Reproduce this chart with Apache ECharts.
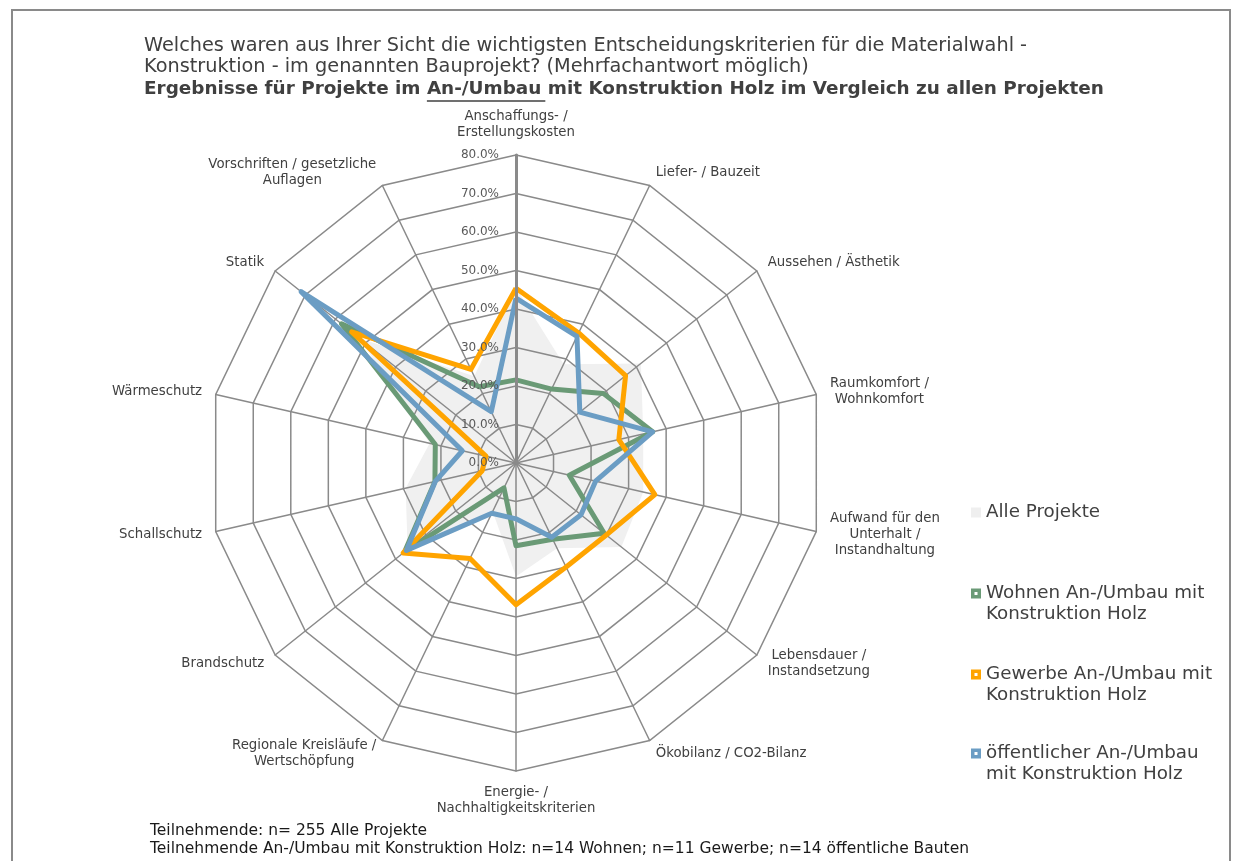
<!DOCTYPE html>
<html>
<head>
<meta charset="utf-8">
<title>Entscheidungskriterien Materialwahl</title>
<script src="https://cdn.jsdelivr.net/npm/echarts@6/dist/echarts.min.js"></script>
<style>
html, body { margin: 0; padding: 0; background: #fff; }
#main { width: 1233px; height: 861px; }
</style>
</head>
<body>
<div id="main"></div>
<script>
// Kriterien im Uhrzeigersinn, oben beginnend
var kriterien = [
  'Anschaffungs- /\nErstellungskosten',
  'Liefer- / Bauzeit',
  'Aussehen / Ästhetik',
  'Raumkomfort /\nWohnkomfort',
  'Aufwand für den\nUnterhalt /\nInstandhaltung',
  'Lebensdauer /\nInstandsetzung',
  'Ökobilanz / CO2-Bilanz',
  'Energie- /\nNachhaltigkeitskriterien',
  'Regionale Kreisläufe /\nWertschöpfung',
  'Brandschutz',
  'Schallschutz',
  'Wärmeschutz',
  'Statik',
  'Vorschriften / gesetzliche\nAuflagen'
];
// Anteile in %
var alleProjekte = [45.5, 28.5, 41.5, 33.9, 33.9, 35.0, 24.6, 29.5, 14.0, 36.0, 29.4, 23.0, 52.0, 25.0];
var wohnen       = [21.6, 21.3, 29.0, 36.4, 14.2, 29.3, 22.0, 21.5, 7.2, 37.0, 21.6, 21.5, 58.0, 22.0];
var gewerbe      = [45.4, 37.5, 36.4, 27.4, 37.0, 30.0, 30.0, 36.8, 27.5, 37.5, 9.0, 8.0, 54.6, 27.0];
var oeffentlich  = [42.8, 36.5, 21.2, 36.4, 21.2, 21.6, 21.4, 14.5, 14.5, 36.4, 21.5, 14.3, 71.4, 14.8];

var skalaMin = 0;
var skalaMax = 80;
var skalaSchritte = 8;

var reihenNamen = [
  'Alle Projekte',
  'Wohnen An-/Umbau mit\nKonstruktion Holz',
  'Gewerbe An-/Umbau mit\nKonstruktion Holz',
  'öffentlicher An-/Umbau\nmit Konstruktion Holz'
];
var reihenFarben = ['#efefef', '#6a9a76', '#ffa400', '#6b9dc4'];

var FONT = '"DejaVu Sans", "Noto Sans", sans-serif';
var GRAU = '#8a8a8a';

// echarts zeichnet gegen den Uhrzeigersinn -> Reihenfolge umdrehen
var reihenfolge = [0];
for (var i = kriterien.length - 1; i > 0; i--) reihenfolge.push(i);
function sortiert(arr) {
  return reihenfolge.map(function (k) { return arr[k]; });
}

var chart = echarts.init(document.getElementById('main'));

// Breite für die Unterstreichung im Titel messen
var ctx = document.createElement('canvas').getContext('2d');
ctx.font = 'bold 18.4px ' + FONT;
var titelLinks = 144;
var vorUnterstrich = ctx.measureText('Ergebnisse für Projekte im ').width;
var unterstrichBreite = ctx.measureText('An-/Umbau').width + 4;

var legendenOben = [502, 562, 643, 722];
var legenden = reihenNamen.map(function (name, idx) {
  var icon = idx === 0 ? 'rect' : 'path://M0,0H10V10H0Z M3.5,3.5V6.5H6.5V3.5Z';
  return {
    data: [{ name: name, icon: icon }],
    orient: 'vertical',
    left: 971,
    top: legendenOben[idx],
    padding: 0,
    itemWidth: 10,
    itemHeight: 10,
    selectedMode: false,
    itemStyle: { borderWidth: 0 },
    // erste Zeile auf Höhe des Symbols
    formatter: function (n) { return idx === 0 ? n : '\n' + n; },
    textStyle: {
      fontFamily: FONT,
      fontSize: 18.3,
      color: '#404040',
      lineHeight: 21
    }
  };
});

var reihenDaten = [alleProjekte, wohnen, gewerbe, oeffentlich];
var serien = reihenDaten.map(function (werte, idx) {
  var s = {
    name: reihenNamen[idx],
    type: 'radar',
    radarIndex: 0,
    z: 4,
    symbol: 'none',
    itemStyle: { color: reihenFarben[idx] },
    lineStyle: { color: reihenFarben[idx], width: 5, join: 'round' },
    data: [{ name: reihenNamen[idx], value: sortiert(werte) }]
  };
  if (idx === 0) {
    s.z = 1;
    s.lineStyle = { width: 0, opacity: 0 };
    s.areaStyle = { color: '#f0f0f0', opacity: 1 };
  }
  return s;
});

chart.setOption({
  animation: false,
  backgroundColor: '#fff',
  legend: legenden,
  radar: [
    {
      z: 2,
      center: [516, 463],
      radius: 308,
      startAngle: 90,
      shape: 'polygon',
      splitNumber: skalaSchritte,
      nameGap: 14,
      indicator: sortiert(kriterien).map(function (n) {
        return { name: n, min: skalaMin, max: skalaMax };
      }),
      axisName: {
        color: '#404040',
        fontFamily: FONT,
        fontSize: 13.3,
        formatter: function (name) {
          return name.split('\n').map(function (z) { return '{c|' + z + '}'; }).join('\n');
        },
        rich: {
          c: { align: 'center', fontFamily: FONT, fontSize: 13.3, color: '#404040', lineHeight: 16 }
        }
      },
      axisLine: { lineStyle: { color: GRAU, width: 1.5 } },
      splitLine: { lineStyle: { color: GRAU, width: 1.5 } },
      splitArea: { show: false },
      axisTick: { show: false },
      axisLabel: { show: false }
    },
    {
      // nur für die senkrechte Werteachse mit Beschriftung
      z: 5,
      center: [516, 463],
      radius: 308,
      startAngle: 90,
      splitNumber: skalaSchritte,
      indicator: [{ name: '', min: skalaMin, max: skalaMax }],
      axisName: { show: false },
      axisLine: { lineStyle: { color: GRAU, width: 3 } },
      splitLine: { show: false },
      splitArea: { show: false },
      axisTick: { show: false },
      axisLabel: {
        show: true,
        margin: 17,
        color: '#595959',
        fontFamily: FONT,
        fontSize: 12,
        formatter: function (v) { return v.toFixed(1) + '%'; }
      }
    }
  ],
  graphic: [
    {
      type: 'rect',
      silent: true,
      shape: { x: 12, y: 10, width: 1218, height: 870 },
      style: { fill: 'none', stroke: GRAU, lineWidth: 2 }
    },
    {
      type: 'text', left: titelLinks, top: 36,
      style: { text: 'Welches waren aus Ihrer Sicht die wichtigsten Entscheidungskriterien für die Materialwahl -',
        font: '19.3px ' + FONT, fill: '#404040' }
    },
    {
      type: 'text', left: titelLinks, top: 57,
      style: { text: 'Konstruktion - im genannten Bauprojekt? (Mehrfachantwort möglich)',
        font: '19.3px ' + FONT, fill: '#404040' }
    },
    {
      type: 'text', left: titelLinks, top: 80,
      style: { text: 'Ergebnisse für Projekte im An-/Umbau mit Konstruktion Holz im Vergleich zu allen Projekten',
        font: 'bold 18.4px ' + FONT, fill: '#404040' }
    },
    {
      type: 'line', silent: true,
      shape: { x1: titelLinks + vorUnterstrich, y1: 101, x2: titelLinks + vorUnterstrich + unterstrichBreite, y2: 101 },
      style: { stroke: '#404040', lineWidth: 1.5 }
    },
    {
      type: 'text', left: 150, top: 823,
      style: { text: 'Teilnehmende: n= 255 Alle Projekte', font: '15.5px ' + FONT, fill: '#1a1a1a' }
    },
    {
      type: 'text', left: 150, top: 841,
      style: { text: 'Teilnehmende An-/Umbau mit Konstruktion Holz: n=14 Wohnen; n=11 Gewerbe; n=14 öffentliche Bauten',
        font: '15.5px ' + FONT, fill: '#1a1a1a' }
    }
  ],
  series: serien
});
</script>
</body>
</html>
